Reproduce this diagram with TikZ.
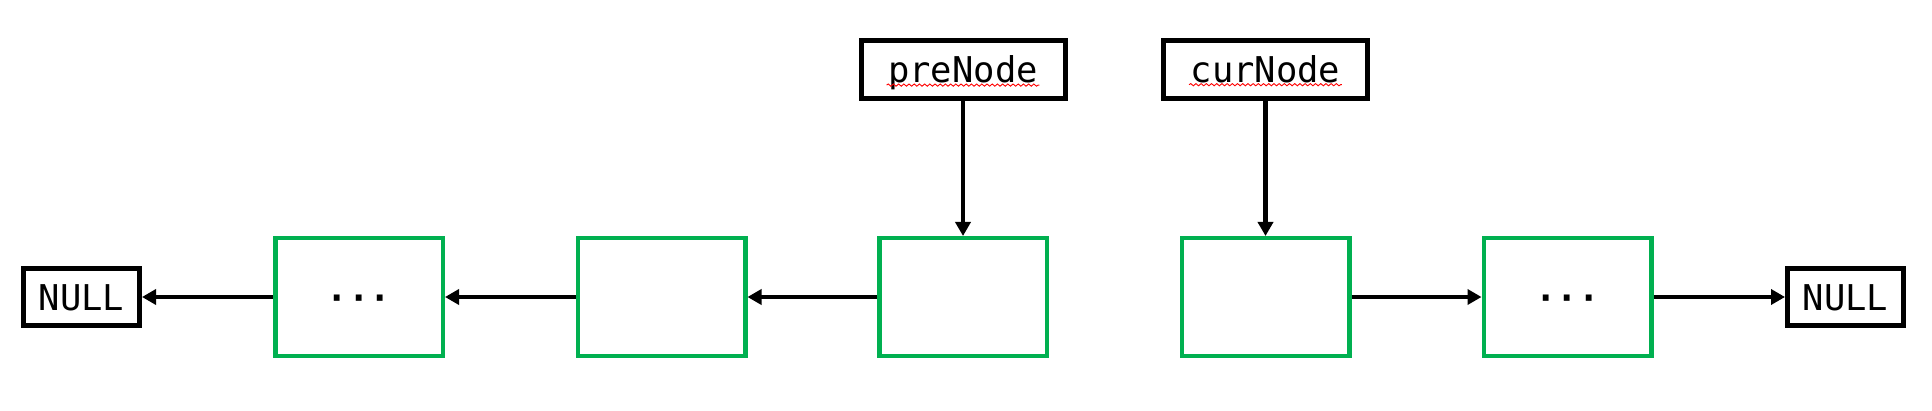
\documentclass[tikz,border=0pt]{standalone}
\usepackage{fontspec}
\newfontfamily\monofont{DejaVu Sans Mono}
\usetikzlibrary{arrows.meta,decorations.pathmorphing}
\definecolor{nodegreen}{RGB}{0,176,80}
\tikzset{
  txt/.style={font=\monofont\fontsize{17.75pt}{20pt}\selectfont, text height=13.2pt, text depth=0pt, inner sep=0pt},
  listnode/.style={txt, draw=nodegreen, line width=2.25pt, minimum width=83.75pt, minimum height=58.75pt},
  ptrbox/.style={txt, draw=black, line width=2.5pt, minimum width=102pt, minimum height=29pt},
  nullbox/.style={txt, draw=black, line width=2.5pt, minimum width=58pt, minimum height=28.5pt},
  link/.style={line width=2.2pt, -{Triangle[length=7pt,width=7.5pt]}},
  squiggle/.style={red, line width=0.45pt, decorate, decoration={snake, segment length=2.6pt, amplitude=0.55pt}}
}
\begin{document}
\begin{tikzpicture}[x=0.5pt,y=-0.5pt]
\useasboundingbox (0,0) rectangle (1932,411);
\node[nullbox] (nullL) at (81.5,297) {NULL};
\node[listnode] (g1) at (359,297) {\bfseries ···};
\node[listnode] (g2) at (661.5,297) {};
\node[listnode] (g3) at (963,297) {};
\node[listnode] (g4) at (1265.5,297) {};
\node[listnode] (g5) at (1567.5,297) {\bfseries ···};
\node[nullbox] (nullR) at (1845.5,297) {NULL};
\node[ptrbox] (pre) at (963,69.5) {preNode};
\node[ptrbox] (cur) at (1265.5,69.5) {curNode};
\draw[link] (g1.west) -- (nullL.east);
\draw[link] (g2.west) -- (g1.east);
\draw[link] (g3.west) -- (g2.east);
\draw[link] (g4.east) -- (g5.west);
\draw[link] (g5.east) -- (nullR.west);
\draw[link] (pre.south) -- (g3.north);
\draw[link] (cur.south) -- (g4.north);
\draw[squiggle] ([xshift=-38.2pt,yshift=-1.2pt]pre.base) -- ([xshift=38.2pt,yshift=-1.2pt]pre.base);
\draw[squiggle] ([xshift=-38.2pt,yshift=-1.0pt]cur.base) -- ([xshift=38.2pt,yshift=-1.0pt]cur.base);
\end{tikzpicture}
\end{document}
